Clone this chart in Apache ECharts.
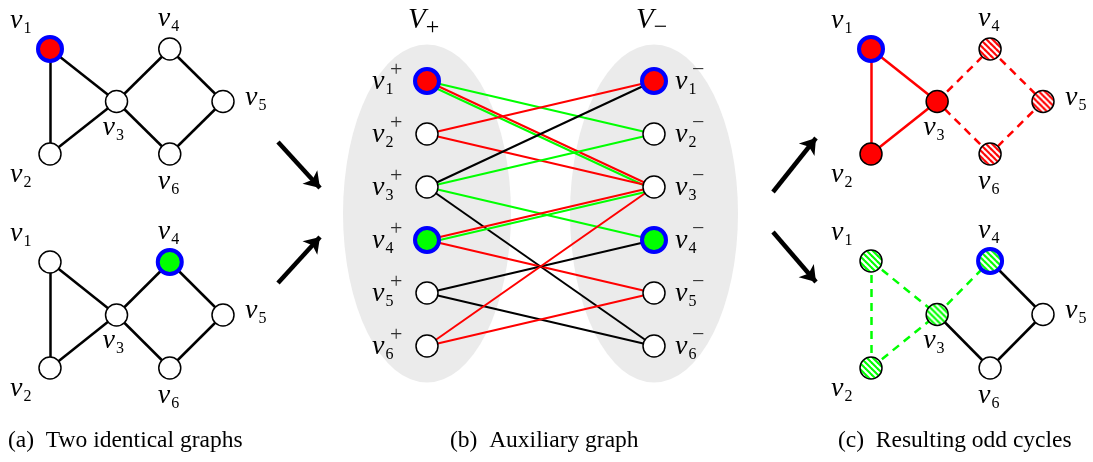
<!DOCTYPE html>
<html><head><meta charset="utf-8">
<script src="https://cdn.jsdelivr.net/npm/echarts@6/dist/echarts.min.js"></script>
<style>html,body{margin:0;padding:0;background:#fff}#c{width:1093px;height:462px}</style>
</head><body><div id="c"></div>
<script>
// ---------------- data ----------------
const vertexIds = ['1', '2', '3', '4', '5', '6'];
const vertexX = [0, 0, 1.25, 2.25, 3.25, 2.25];
const vertexY = [0, 2, 1, 0, 1, 2];
const graphEdges = [[1, 2], [1, 3], [2, 3], [3, 4], [4, 5], [5, 6], [6, 3]];

const panelA1Fill = ['red', 'white', 'white', 'white', 'white', 'white'];
const panelA1Mark = [1, 0, 0, 0, 0, 0];
const panelA1Edge = ['black', 'black', 'black', 'black', 'black', 'black', 'black'];
const panelA2Fill = ['white', 'white', 'white', 'green', 'white', 'white'];
const panelA2Mark = [0, 0, 0, 1, 0, 0];
const panelA2Edge = ['black', 'black', 'black', 'black', 'black', 'black', 'black'];
const panelC1Fill = ['red', 'red', 'red', 'redHatch', 'redHatch', 'redHatch'];
const panelC1Mark = [1, 0, 0, 0, 0, 0];
const panelC1Edge = ['red', 'red', 'red', 'redDash', 'redDash', 'redDash', 'redDash'];
const panelC2Fill = ['greenHatch', 'greenHatch', 'greenHatch', 'greenHatch', 'white', 'white'];
const panelC2Mark = [0, 0, 0, 1, 0, 0];
const panelC2Edge = ['greenDash', 'greenDash', 'greenDash', 'greenDash', 'black', 'black', 'black'];

const auxRows = [1, 2, 3, 4, 5, 6];
const auxPlusFill = ['red', 'white', 'white', 'green', 'white', 'white'];
const auxMinusFill = ['red', 'white', 'white', 'green', 'white', 'white'];
const auxMark = [1, 0, 0, 1, 0, 0];
// [plus row, minus row, colour]
const auxEdges = [
  [1, 2, 'green'], [1, 3, 'redgreen'], [2, 1, 'red'], [2, 3, 'red'],
  [3, 1, 'black'], [3, 2, 'green'], [3, 4, 'green'], [3, 6, 'black'],
  [4, 3, 'redgreen'], [4, 5, 'red'], [5, 4, 'black'], [5, 6, 'black'],
  [6, 3, 'red'], [6, 5, 'red']
];
const sideSigns = ['+', '\u2212'];
const captions = ['(a)  Two identical graphs', '(b)  Auxiliary graph', '(c)  Resulting odd cycles'];
const arrowFrom = [[278, 142], [278, 283], [773, 192], [773, 232]];
const arrowTo = [[320, 188], [320, 237], [816, 138], [816, 282]];

// ---------------- styles ----------------
const RED = '#ff0000', GREEN = '#00ff00', BLUE = '#0000ff';
const NODE_SIZE = 22, MARK_SIZE = 24;
function hatchPattern(c, size) {
  const t = 6, cv = document.createElement('canvas');
  cv.width = t; cv.height = t;
  const ctx = cv.getContext('2d');
  ctx.fillStyle = '#fff'; ctx.fillRect(0, 0, t, t);
  ctx.strokeStyle = c; ctx.lineWidth = 2.1;
  [-t, 0, t].forEach(x0 => { ctx.beginPath(); ctx.moveTo(x0 - 1, -1); ctx.lineTo(x0 + t + 1, t + 1); ctx.stroke(); });
  // symbols are drawn in a unit space scaled by size/2, so undo that scale for the tile
  return { image: cv, repeat: 'repeat', scaleX: 2 / size, scaleY: 2 / size };
}
function fillStyle(code, size) {
  if (code === 'red') return { color: RED };
  if (code === 'green') return { color: GREEN };
  if (code === 'redHatch') return { color: hatchPattern(RED, size) };
  if (code === 'greenHatch') return { color: hatchPattern(GREEN, size) };
  return { color: '#fff' };
}
function edgeStyle(code) {
  const base = { width: 2.5, opacity: 1, cap: 'butt' };
  if (code === 'red') return Object.assign(base, { color: RED });
  if (code === 'redDash') return Object.assign(base, { color: RED, type: [8, 6] });
  if (code === 'greenDash') return Object.assign(base, { color: GREEN, type: [8, 6] });
  return Object.assign(base, { color: '#000' });
}
function auxStyle(code) {
  const base = { width: 2, opacity: 1 };
  if (code === 'red') return Object.assign(base, { color: RED });
  if (code === 'green') return Object.assign(base, { color: GREEN });
  if (code === 'redgreen') return Object.assign(base, { color: RED, shadowColor: GREEN, shadowOffsetY: 3, shadowBlur: 0 });
  return Object.assign(base, { color: '#000' });
}
const FONT = 'Liberation Serif';
const RICH = {
  v: { fontFamily: FONT, fontStyle: 'italic', fontSize: 28, color: '#000' },
  s: { fontFamily: FONT, fontStyle: 'normal', fontSize: 16, color: '#000', padding: [16, 0, 0, 1] },
  p: { fontFamily: FONT, fontStyle: 'normal', fontSize: 22, color: '#000' },
  V: { fontFamily: FONT, fontStyle: 'italic', fontSize: 29, color: '#000' },
  q: { fontFamily: FONT, fontStyle: 'normal', fontSize: 24, color: '#000', padding: [16, 0, 0, 0] }
};
const LABEL_OFF = [[-40, -28.5], [-40, 20.5], [-14, 26], [-12, -30], [22, -4], [-12, 28]];

// ---------------- build ----------------
const grids = [], xAxes = [], yAxes = [], series = [];
function addGrid(pos, xr, yr) {
  grids.push(Object.assign({ containLabel: false, show: false }, pos));
  const gi = grids.length - 1;
  xAxes.push({ type: 'value', gridIndex: gi, min: xr[0], max: xr[1], show: false });
  yAxes.push({ type: 'value', gridIndex: gi, min: yr[0], max: yr[1], inverse: true, show: false });
  return gi;
}
function nodeItem(value, fill, mark, label) {
  const size = mark ? MARK_SIZE : NODE_SIZE;
  return {
    value: value,
    symbolSize: size,
    itemStyle: Object.assign({ borderColor: mark ? BLUE : '#000', borderWidth: mark ? 4 : 1.5, opacity: 1 }, fillStyle(fill, size)),
    label: label
  };
}
function mkLabel(text, off) {
  return { show: true, position: 'inside', align: 'left', verticalAlign: 'middle', offset: off,
    formatter: text, color: '#000', fontFamily: FONT, fontStyle: 'normal', textBorderWidth: 0, rich: RICH };
}
function addGraphPanel(pos, fills, marks, edgeCodes) {
  const gi = addGrid(pos, [0, 3.25], [0, 2]);
  series.push({
    type: 'lines', coordinateSystem: 'cartesian2d', xAxisIndex: gi, yAxisIndex: gi, z: 2, silent: true, clip: false,
    data: graphEdges.map((e, k) => ({
      coords: [[vertexX[e[0] - 1], vertexY[e[0] - 1]], [vertexX[e[1] - 1], vertexY[e[1] - 1]]],
      lineStyle: edgeStyle(edgeCodes[k])
    }))
  });
  series.push({
    type: 'scatter', xAxisIndex: gi, yAxisIndex: gi, z: 3, clip: false, silent: true,
    data: vertexIds.map((id, i) => nodeItem([vertexX[i], vertexY[i]], fills[i], marks[i],
      mkLabel('{v|v}{s|' + id + '}', LABEL_OFF[i])))
  });
}
addGraphPanel({ left: 50, top: 49, width: 173, height: 105 }, panelA1Fill, panelA1Mark, panelA1Edge);
addGraphPanel({ left: 50, top: 262, width: 173, height: 106 }, panelA2Fill, panelA2Mark, panelA2Edge);
addGraphPanel({ left: 871, top: 49, width: 172, height: 105 }, panelC1Fill, panelC1Mark, panelC1Edge);
addGraphPanel({ left: 871, top: 261, width: 172, height: 107 }, panelC2Fill, panelC2Mark, panelC2Edge);

// auxiliary bipartite graph
const gB = addGrid({ left: 427, top: 81, width: 227, height: 265 }, [0, 1], [auxRows[0], auxRows[auxRows.length - 1]]);
const midRow = (auxRows[0] + auxRows[auxRows.length - 1]) / 2;
series.push({
  type: 'scatter', xAxisIndex: gB, yAxisIndex: gB, z: 1, clip: false, silent: true,
  symbolSize: [168, 338], itemStyle: { color: '#ebebeb', opacity: 1 }, data: [[0, midRow], [1, midRow]]
});
series.push({
  type: 'lines', coordinateSystem: 'cartesian2d', xAxisIndex: gB, yAxisIndex: gB, z: 2, silent: true, clip: false,
  data: auxEdges.map(e => ({ coords: [[0, e[0]], [1, e[1]]], lineStyle: auxStyle(e[2]) }))
});
series.push({
  type: 'scatter', xAxisIndex: gB, yAxisIndex: gB, z: 3, clip: false, silent: true,
  data: auxRows.map((r, i) => nodeItem([0, r], auxPlusFill[i], auxMark[i], mkLabel('{v|v}{s|' + r + '}', [-55, 1])))
    .concat(auxRows.map((r, i) => nodeItem([1, r], auxMinusFill[i], auxMark[i], mkLabel('{v|v}{s|' + r + '}', [21, 1]))))
});
series.push({
  type: 'scatter', xAxisIndex: gB, yAxisIndex: gB, z: 4, clip: false, silent: true,
  symbolSize: 1, itemStyle: { color: 'rgba(0,0,0,0)' },
  data: auxRows.map(r => ({ value: [0, r], label: mkLabel('{p|' + sideSigns[0] + '}', [-37, -11]) }))
    .concat(auxRows.map(r => ({ value: [1, r], label: mkLabel('{p|' + sideSigns[1] + '}', [38, -11]) })))
});

// arrows
const gO = addGrid({ left: 0, top: 0, width: 1093, height: 462 }, [0, 1093], [0, 462]);
series.push({
  type: 'lines', coordinateSystem: 'cartesian2d', xAxisIndex: gO, yAxisIndex: gO, z: 5, silent: true, clip: false,
  symbol: ['none', 'arrow'], symbolSize: 15,
  lineStyle: { color: '#000', width: 4.5, opacity: 1 },
  data: arrowFrom.map((f, i) => ({ coords: [f, arrowTo[i]] }))
});

const titles = [
  { text: '{V|V}{q|' + sideSigns[0] + '}', left: 408, top: 0 },
  { text: '{V|V}{q|' + sideSigns[1] + '}', left: 636, top: 0 },
  { text: captions[0], left: 8, top: 429 },
  { text: captions[1], left: 450, top: 429 },
  { text: captions[2], left: 838, top: 429 }
].map(t => Object.assign(t, { padding: 0, textStyle: { fontFamily: FONT, fontSize: 23.5, fontWeight: 'normal', color: '#000', rich: RICH } }));

const chart = echarts.init(document.getElementById('c'));
chart.setOption({
  animation: false,
  backgroundColor: '#fff',
  title: titles,
  grid: grids, xAxis: xAxes, yAxis: yAxes,
  series: series
});
</script>
</body></html>
